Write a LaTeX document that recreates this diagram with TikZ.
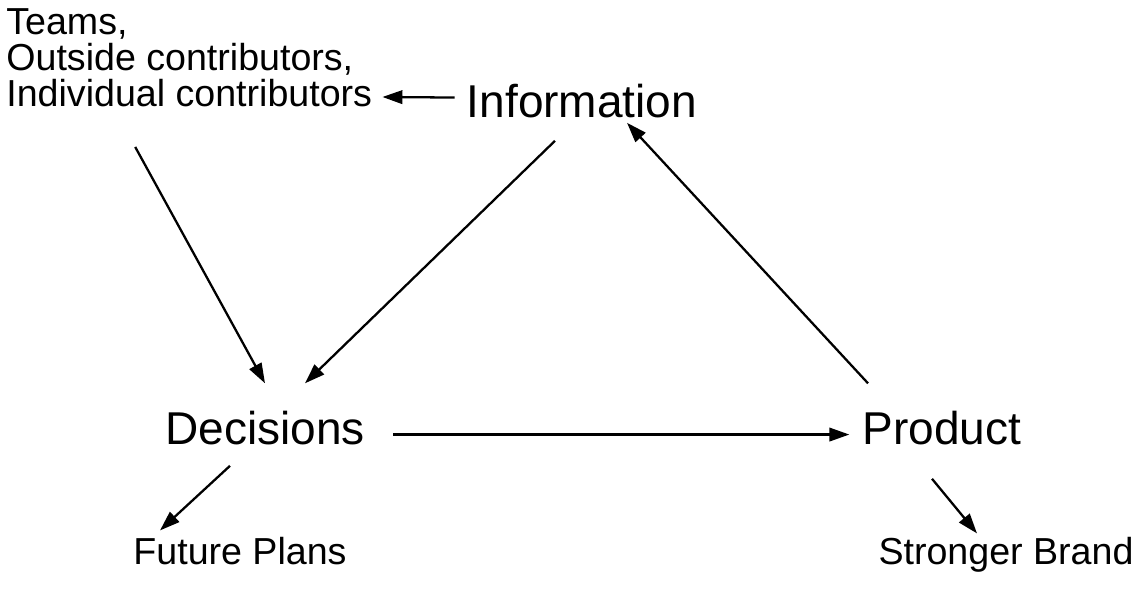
\documentclass[tikz,border=0pt]{standalone}
\usepackage{fontspec}
\setmainfont{Liberation Sans}
\usepackage{tikz}
\usetikzlibrary{arrows.meta,calc}
\tikzset{
  big/.style={inner sep=0pt, anchor=base, font=\fontsize{26.2}{30}\selectfont},
  small/.style={inner sep=0pt, anchor=base, font=\fontsize{21.4}{20.5}\selectfont},
  arrow/.style={-{Triangle[length=0.4cm,width=0.27cm]}, line width=1.3pt}
}
\begin{document}
\begin{tikzpicture}[x=0.02cm, y=-0.02cm]
\useasboundingbox[fill=white] (0,0) rectangle (1145,589);
\node[small, anchor=north west, align=left] (people) at (6,8) {Teams,\\Outside contributors,\\Individual contributors};
\node[big] (info) at (582,117) {Information};
\node[big] (dec) at (265,444) {Decisions};
\node[big] (prod) at (942,444) {Product};
\node[small] (plans) at (240,564) {Future Plans};
\node[small] (brand) at (1006,564) {Stronger Brand};
\draw[arrow] ($(info.west)+(-12,-3)$) -- ($(people.south east)+(10,-10)$);
\draw[arrow] ($(people.south)+(-54,40)$) -- ($(dec.north)+(0,-27)$);
\draw[arrow] ($(info.south)+(-27,23)$) -- ($(dec.north)+(40,-27)$);
\draw[arrow] ($(prod.north)+(-74,-27)$) -- ($(info.south)+(45,5)$);
\draw[arrow] ($(dec.east)+(28,7)$) -- ($(prod.west)+(-13,7)$);
\draw[arrow] ($(dec.south)+(-35,21)$) -- ($(plans.north)+(-80,-6)$);
\draw[arrow] ($(prod.south)+(-10,34)$) -- ($(brand.north)+(-29,-3)$);
\end{tikzpicture}
\end{document}
